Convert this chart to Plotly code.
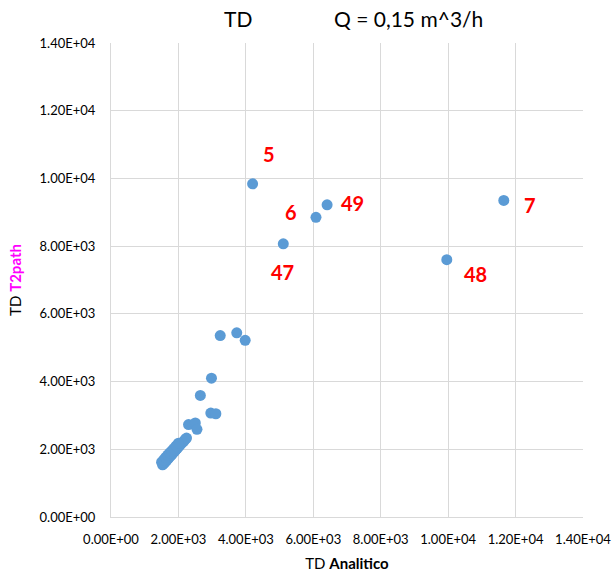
import plotly.graph_objects as go

# TD analytic vs TD from T2path, Q = 0,15 m^3/h
td_analitico = [
    # dense group of low-TD samples
    1530, 1560, 1590, 1620, 1650, 1680, 1710, 1740, 1770, 1800, 1840, 1880,
    1920, 1960, 2000, 2050, 2100, 2150, 2200, 2240,
    1500, 1560, 1620, 1680, 1740, 1800, 1860, 1930, 2000,
    # intermediate samples
    2300, 2500, 2550, 2650, 2960, 3110, 2980, 3240, 3730, 3980,
    # numbered outliers
    4200, 5110, 6080, 6410, 9960, 11650,
]
td_t2path = [
    1540, 1575, 1610, 1640, 1675, 1710, 1740, 1780, 1810, 1845, 1890, 1930,
    1980, 2020, 2070, 2120, 2180, 2230, 2290, 2330,
    1620, 1690, 1760, 1830, 1890, 1950, 2020, 2100, 2180,
    2730, 2780, 2590, 3590, 3070, 3050, 4100, 5360, 5440, 5220,
    9840, 8070, 8850, 9220, 7600, 9350,
]

# Point numbers written next to the outlying samples
label_text = ["5", "6", "49", "47", "7", "48"]
label_x = [4200, 6080, 6410, 5110, 11650, 9960]
label_y = [9840, 8850, 9220, 8070, 9350, 7600]
label_dx = [16, -25, 25, -1, 26, 29]
label_dy = [30, 5, 2, -28, -5, -14]

tick_vals = [0, 2000, 4000, 6000, 8000, 10000, 12000, 14000]
tick_text = ["0.00E+00", "2.00E+03", "4.00E+03", "6.00E+03",
             "8.00E+03", "1.00E+04", "1.20E+04", "1.40E+04"]

FONT = "Lato, 'Open Sans', sans-serif"
GRID = "#D9D9D9"

W, H = 614, 574
ML, MR, MT, MB = 111, 31, 43, 57

fig = go.Figure()
fig.add_trace(go.Scatter(
    x=td_analitico, y=td_t2path, mode="markers",
    marker=dict(color="#5B9BD5", size=11, line=dict(width=0)),
    showlegend=False, hoverinfo="x+y",
))

for t, x, y, dx, dy in zip(label_text, label_x, label_y, label_dx, label_dy):
    fig.add_annotation(
        x=x, y=y, xref="x", yref="y", text=f"<b>{t}</b>", showarrow=False,
        xshift=dx, yshift=dy,
        font=dict(family=FONT, size=20, color="#FF0000"),
    )

# Chart title in two parts, positioned in pixels from the top-left corner
def px_to_paper(px, py):
    return (px - ML) / (W - ML - MR), 1 + (MT - py) / (H - MT - MB)

for txt, px, py in [("TD", 238, 19), ("Q = 0,15 m^3/h", 408, 19)]:
    ax, ay = px_to_paper(px, py)
    fig.add_annotation(x=ax, y=ay, xref="paper", yref="paper", text=txt,
                       showarrow=False, xanchor="center", yanchor="middle",
                       font=dict(family=FONT, size=21, color="#000000"))

axis_common = dict(
    range=[0, 14000], tickvals=tick_vals, ticktext=tick_text,
    showgrid=True, gridcolor=GRID, gridwidth=1,
    showline=True, linecolor=GRID, linewidth=1,
    zeroline=False, ticks="", automargin=False,
    tickfont=dict(family=FONT, size=13, color="#000000"),
)

fig.update_layout(
    width=W, height=H,
    margin=dict(l=ML, r=MR, t=MT, b=MB),
    paper_bgcolor="white", plot_bgcolor="white",
    xaxis=dict(
        **axis_common, ticklabelstandoff=10,
        title=dict(text="TD <b>Analitico</b>", standoff=12,
                   font=dict(family=FONT, size=15, color="#000000")),
    ),
    yaxis=dict(
        **axis_common, ticklabelstandoff=12,
        title=dict(text="TD <b><span style='color:#FF00FF'>T2path</span></b>",
                   standoff=14, font=dict(family=FONT, size=15, color="#000000")),
    ),
)

fig.write_html("out.html")
